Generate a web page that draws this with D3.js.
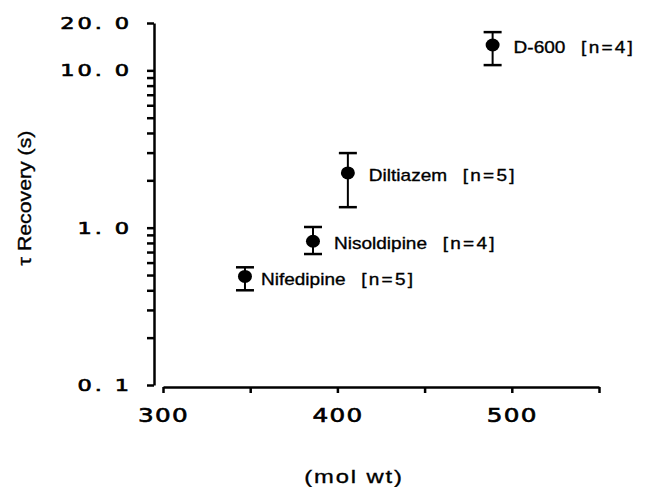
<!DOCTYPE html>
<html>
<head>
<meta charset="utf-8">
<script src="https://cdn.jsdelivr.net/npm/d3@7"></script>
<style>
  body { margin: 0; background: #fff; }
  svg { display: block; }
  .tick line, .domain { stroke: #000; stroke-width: 2.5; }
  .ticklabel { font-family: "DejaVu Sans", sans-serif; fill: #000; stroke: #000; stroke-width: 0.6; }
  .lbl { font-family: "Liberation Sans", Arial, sans-serif; fill: #000; stroke: #000; stroke-width: 0.35; }
</style>
</head>
<body>
<div id="chart"></div>
<script>
// drug names and values
let drugs = ["Nifedipine", "Nisoldipine", "Diltiazem", "D-600"];
let molWt = [347, 386, 406, 489];
let tau = [0.49, 0.82, 2.23, 14.5];
let tauLow = [0.40, 0.68, 1.35, 10.8];
let tauHigh = [0.56, 1.01, 2.98, 17.5];
let nCount = [5, 4, 5, 4];

// axis ticks
let xTicks = [300, 350, 400, 450, 500, 550];
let xTickLabels = {300: "300", 400: "400", 500: "500"};
let yTicks = [0.1, 0.2, 0.3, 0.4, 0.5, 0.6, 0.7, 0.8, 0.9, 1, 2, 3, 4, 5, 6, 7, 8, 9, 10, 20];
let yTickLabels = {"0.1": "0. 1", "1": "1. 0", "10": "10. 0", "20": "20. 0"};

const width = 645, height = 487;

var svg = d3.select("#chart").append("svg")
  .attr("width", width).attr("height", height);

var x = d3.scaleLinear().domain([300, 550]).range([163, 599]);
var y = d3.scaleLog().domain([0.1, 20]).range([385, 23]);

// y axis, ticks pointing left
var yAxis = svg.append("g")
  .attr("transform", "translate(154,0)")
  .call(d3.axisLeft(y)
    .tickValues(yTicks)
    .tickSize(7)
    .tickSizeOuter(0)
    .tickFormat(d => yTickLabels[String(d)] || ""));

yAxis.selectAll("text")
  .attr("class", "ticklabel")
  .attr("x", 0)
  .attr("dy", "0.36em")
  .style("font-size", "15.5px")
  .style("letter-spacing", "2px")
  .attr("transform", "translate(-22,0) scale(1.45,1)");

// x axis, separate from the y axis
var xAxis = svg.append("g")
  .attr("transform", "translate(0,387)")
  .call(d3.axisBottom(x)
    .tickValues(xTicks)
    .tickSize(6)
    .tickSizeOuter(0)
    .tickFormat(d => xTickLabels[d] || ""));

xAxis.selectAll("text")
  .attr("class", "ticklabel")
  .attr("y", 0)
  .attr("dy", 0)
  .style("font-size", "19px")
  .style("letter-spacing", "1px")
  .attr("transform", "translate(0,35) scale(1.3,1)");

svg.selectAll(".domain").attr("fill", "none");

// axis titles
svg.append("text")
  .attr("class", "lbl")
  .attr("transform", "translate(31,198) rotate(-90) scale(1.12,1)")
  .attr("text-anchor", "middle")
  .style("font-size", "19px")
  .text("\u03c4  Recovery (s)");

svg.append("text")
  .attr("class", "lbl")
  .attr("transform", "translate(354,483) scale(1.25,1)")
  .attr("text-anchor", "middle")
  .style("font-size", "19px")
  .style("letter-spacing", "1.5px")
  .text("(mol wt)");

// error bars + points
let data = drugs.map((d, i) => ({name: d, mw: molWt[i], v: tau[i], lo: tauLow[i], hi: tauHigh[i], n: nCount[i]}));

var pts = svg.selectAll(".pt").data(data).enter().append("g").attr("class", "pt");

pts.append("line")
  .attr("x1", d => x(d.mw)).attr("x2", d => x(d.mw))
  .attr("y1", d => y(d.lo)).attr("y2", d => y(d.hi))
  .attr("stroke", "#000").attr("stroke-width", 2);

pts.selectAll(".cap")
  .data(d => [{mw: d.mw, v: d.lo}, {mw: d.mw, v: d.hi}])
  .enter().append("line")
  .attr("class", "cap")
  .attr("x1", d => x(d.mw) - 9).attr("x2", d => x(d.mw) + 9)
  .attr("y1", d => y(d.v)).attr("y2", d => y(d.v))
  .attr("stroke", "#000").attr("stroke-width", 2.5);

pts.append("ellipse")
  .attr("cx", d => x(d.mw)).attr("cy", d => y(d.v))
  .attr("rx", 7).attr("ry", 6.5)
  .attr("fill", "#000");

// labels next to each point
var lbl = pts.append("text")
  .attr("class", "lbl")
  .attr("transform", (d, i) => "translate(" + (x(d.mw) + (i == 0 ? 16 : 21)) + "," + (y(d.v) + 2) + ") scale(1.12,1)")
  .attr("dy", "0.36em")
  .style("font-size", "17px");

lbl.append("tspan").text(d => d.name);
lbl.append("tspan")
  .attr("dx", 14)
  .style("letter-spacing", "2px")
  .text(d => "[n=" + d.n + "]");
</script>
</body>
</html>
